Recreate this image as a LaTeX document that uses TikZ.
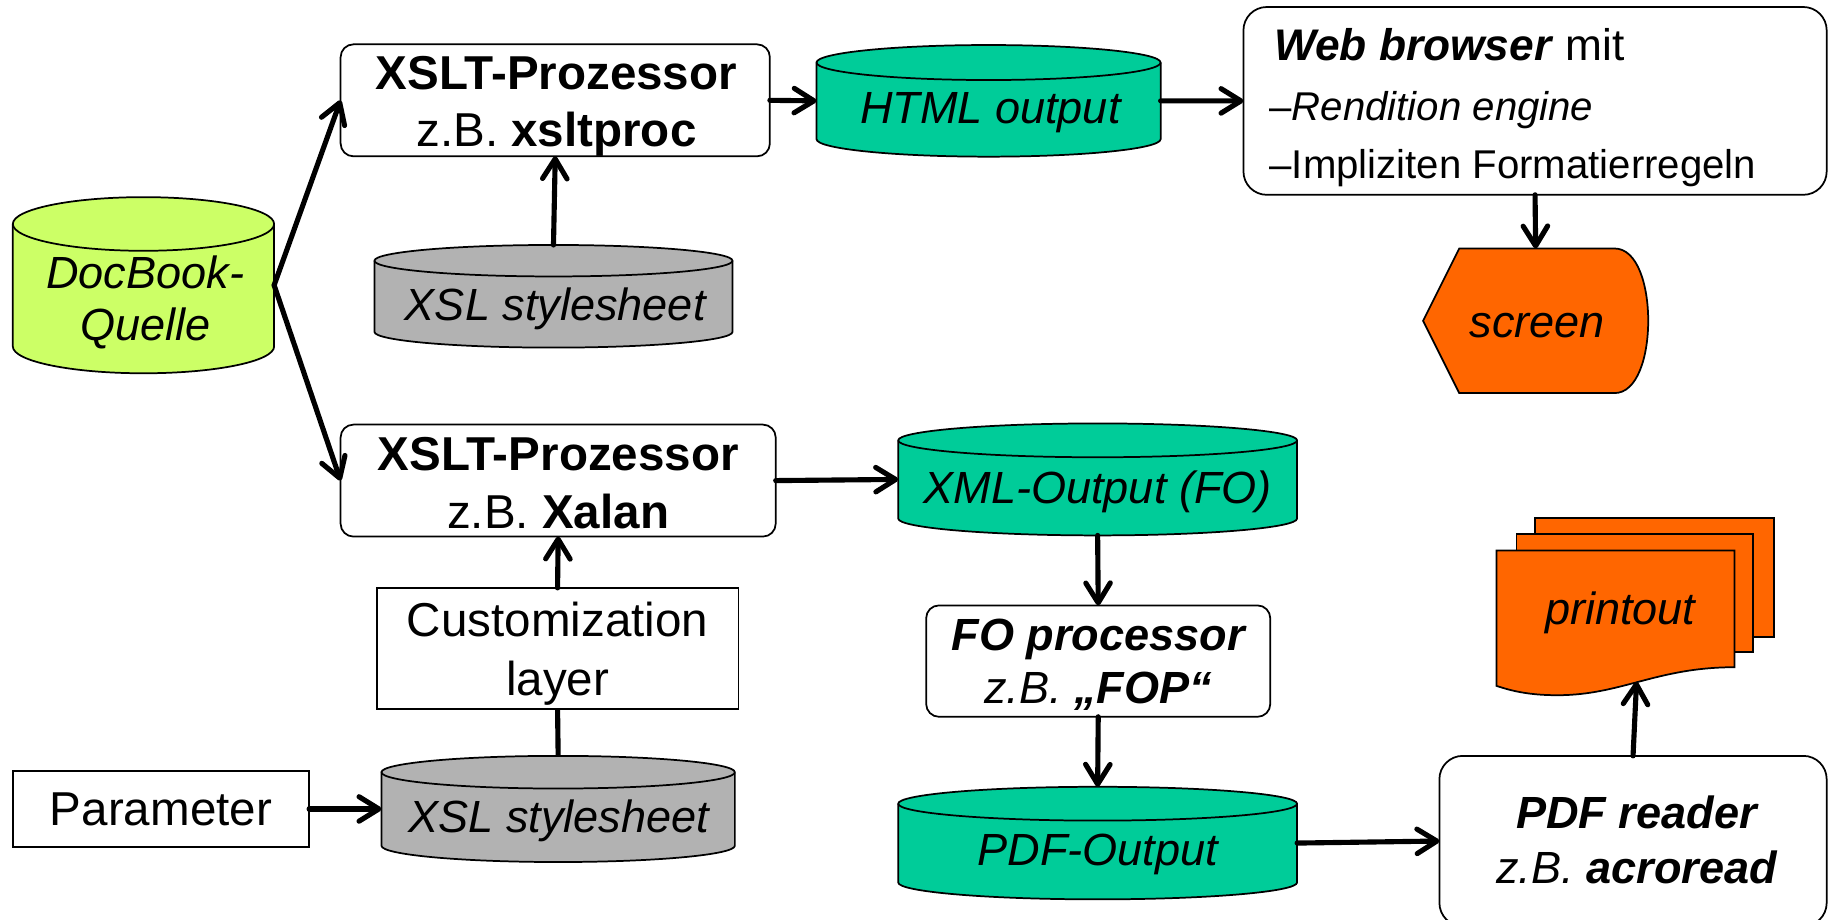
\documentclass[tikz,border=0pt]{standalone}
\usepackage{fontspec}
\setmainfont{Liberation Sans}
\usetikzlibrary{arrows.meta}
\definecolor{dbgreen}{HTML}{CCFF66}
\definecolor{outgreen}{HTML}{00CC99}
\definecolor{ssgray}{HTML}{B2B2B2}
\definecolor{scrorange}{HTML}{FF6600}
\tikzset{
  arr/.style={line width=2.5pt, line cap=round, -{Straight Barb[length=0.34cm,width=0.42cm,round]}},
  conn/.style={line width=2.5pt},
  boxline/.style={draw=black, line width=0.85pt, fill=white, inner sep=0pt, outer sep=0pt, rectangle},
  rbox/.style={boxline, rounded corners=0.22cm},
  anchorbox/.style={inner sep=0pt, outer sep=0pt, rectangle},
  cylfill/.style={draw=black, line width=0.85pt},
  cylline/.style={draw=black, line width=0.85pt},
  up/.style={anchor=base, inner sep=0pt, font=\fontsize{23.2}{27}\selectfont},
  upb/.style={anchor=base, inner sep=0pt, font=\fontsize{23.2}{27}\selectfont\bfseries},
  it/.style={anchor=base, inner sep=0pt, font=\fontsize{22}{26}\selectfont\itshape},
  itb/.style={anchor=base, inner sep=0pt, font=\fontsize{22}{26}\selectfont\bfseries\itshape},
  sm/.style={anchor=base west, inner sep=0pt, font=\fontsize{19.6}{23}\selectfont},
  shapeline/.style={draw=black, line width=0.85pt, fill=scrorange},
}
\newcommand\mybx[6]{%
  \node[#6, minimum width={(#4-#2)*0.02cm}, minimum height={(#5-#3)*0.02cm}] (#1) at ({(#2+#4)/2},{(#3+#5)/2}) {};}
\newcommand\mycyl[7]{%
  \path[cylfill, fill=#7] ({#2-#5},{#3+#6}) -- ({#2-#5},{#4-#6})
     arc[start angle=180,end angle=360,x radius={#5*0.02cm},y radius={#6*0.02cm}]
     -- ({#2+#5},{#3+#6})
     arc[start angle=0,end angle=180,x radius={#5*0.02cm},y radius={#6*0.02cm}] -- cycle;
  \draw[cylline] ({#2-#5},{#3+#6}) arc[start angle=180,end angle=360,x radius={#5*0.02cm},y radius={#6*0.02cm}];
  \node[anchorbox, minimum width={2*#5*0.02cm}, minimum height={(#4-#3)*0.02cm}] (#1) at (#2,{(#3+#4)/2}) {};}
\begin{document}
\begin{tikzpicture}[x=0.02cm, y=-0.02cm]
\useasboundingbox (0,0) rectangle (1568,788.7);
\clip (0,0) rectangle (1568,788.7);

% boxes
\mybx{box1}{292}{38}{660}{134}{rbox}
\mybx{web}{1066}{6}{1566}{167}{rbox, rounded corners=0.4cm}
\mybx{box2}{292}{364}{665}{460}{rbox}
\mybx{cust}{323}{504}{633}{608}{boxline}
\mybx{param}{11}{661}{265}{726}{boxline}
\mybx{fo}{794}{519}{1089}{614.5}{rbox}
\mybx{reader}{1234}{648}{1566}{794}{rbox, rounded corners=0.4cm}

% cylinders
\mycyl{doc}{123}{169}{320}{112}{23}{dbgreen}
\mycyl{sty1}{474.5}{210}{298}{153.5}{13.5}{ssgray}
\mycyl{html}{847.5}{38.6}{134.3}{147.5}{15}{outgreen}
\mycyl{xml}{941}{363}{459}{171}{14.5}{outgreen}
\mycyl{pdf}{941}{674.5}{771}{171}{14.5}{outgreen}
\mycyl{sty2}{478.5}{648}{739}{151.5}{14}{ssgray}

% screen (display symbol)
\path[shapeline] (1220,275) -- (1251,213) -- (1384,213)
  .. controls (1404,213) and (1413,245) .. (1413,275)
  .. controls (1413,305) and (1404,337) .. (1384,337) -- (1251,337) -- cycle;
\node[anchorbox, minimum width=3.86cm, minimum height=2.48cm] (scr) at (1316.5,275) {};

% printout (multi document)
\path[shapeline] (1316,444) rectangle (1521,546);
\path[shapeline] (1300,458) rectangle (1503,559);
\path[shapeline] (1283,472) -- (1487,472) -- (1487,572)
  .. controls (1420,572) and (1390,596) .. (1335,596)
  .. controls (1310,596) and (1295,592) .. (1283,588) -- cycle;
\coordinate (prbot) at (1403,584.5);

% texts
\node[it] (tdoc1) at (124.6,247) {DocBook-};
\node[it] (tdoc2) at (124.6,292) {Quelle};
\node[upb] (tb1a) at (477,77) {XSLT-Prozessor};
\node[up] (tb1b) at (477,126) {z.B. \textbf{xsltproc}};
\node[it] (ts1) at (476,275) {XSL stylesheet};
\node[it] (thtml) at (849,106) {HTML output};
\node[sm, font=\fontsize{21.6}{25}\selectfont] (tw1) at (1092,51.5) {\textbf{\textit{Web browser}} mit};
\node[sm] (tw2) at (1088,103) {–\textit{Rendition engine}};
\node[sm] (tw3) at (1088,153) {–Impliziten Formatierregeln};
\node[it] (tscr) at (1318,289) {screen};
\node[upb] (tb2a) at (478.5,403) {XSLT-Prozessor};
\node[up] (tb2b) at (478.5,453) {z.B. \textbf{Xalan}};
\node[up] (tc1) at (478,546) {Customization};
\node[up] (tc2) at (478,596.5) {layer};
\node[it] (ts2) at (479,714) {XSL stylesheet};
\node[up] (tpar) at (138,708) {Parameter};
\node[it] (txml) at (941,431.5) {XML-Output (FO)};
\node[itb] (tfo1) at (941.5,558) {FO processor};
\node[it] (tfo2) at (941.5,603.5) {z.B. \textbf{„FOP“}};
\node[it] (tpdf) at (941,742) {PDF-Output};
\node[itb] (trd1) at (1403,710) {PDF reader};
\node[it] (trd2) at (1403,757) {z.B. \textbf{acroread}};
\node[it] (tpr) at (1389,535) {printout};

% connectors
\draw[arr] (doc.east) -- (box1.west);
\draw[arr] (doc.east) -- (box2.west);
\draw[arr] (sty1.north) -- (box1.south);
\draw[arr] (box1.east) -- (html.west);
\draw[arr] (html.east) -- (web.west);
\draw[arr] (web.south) -- (scr.north);
\draw[arr] (box2.east) -- (xml.west);
\draw[arr] (xml.south) -- (fo.north);
\draw[arr] (fo.south) -- (pdf.north);
\draw[arr] (pdf.east) -- (reader.west);
\draw[arr] (reader.north) -- (prbot);
\draw[arr] (cust.north) -- (box2.south);
\draw[conn] (sty2.north) -- (cust.south);
\draw[arr] (param.east) -- (sty2.west);
\end{tikzpicture}
\end{document}
